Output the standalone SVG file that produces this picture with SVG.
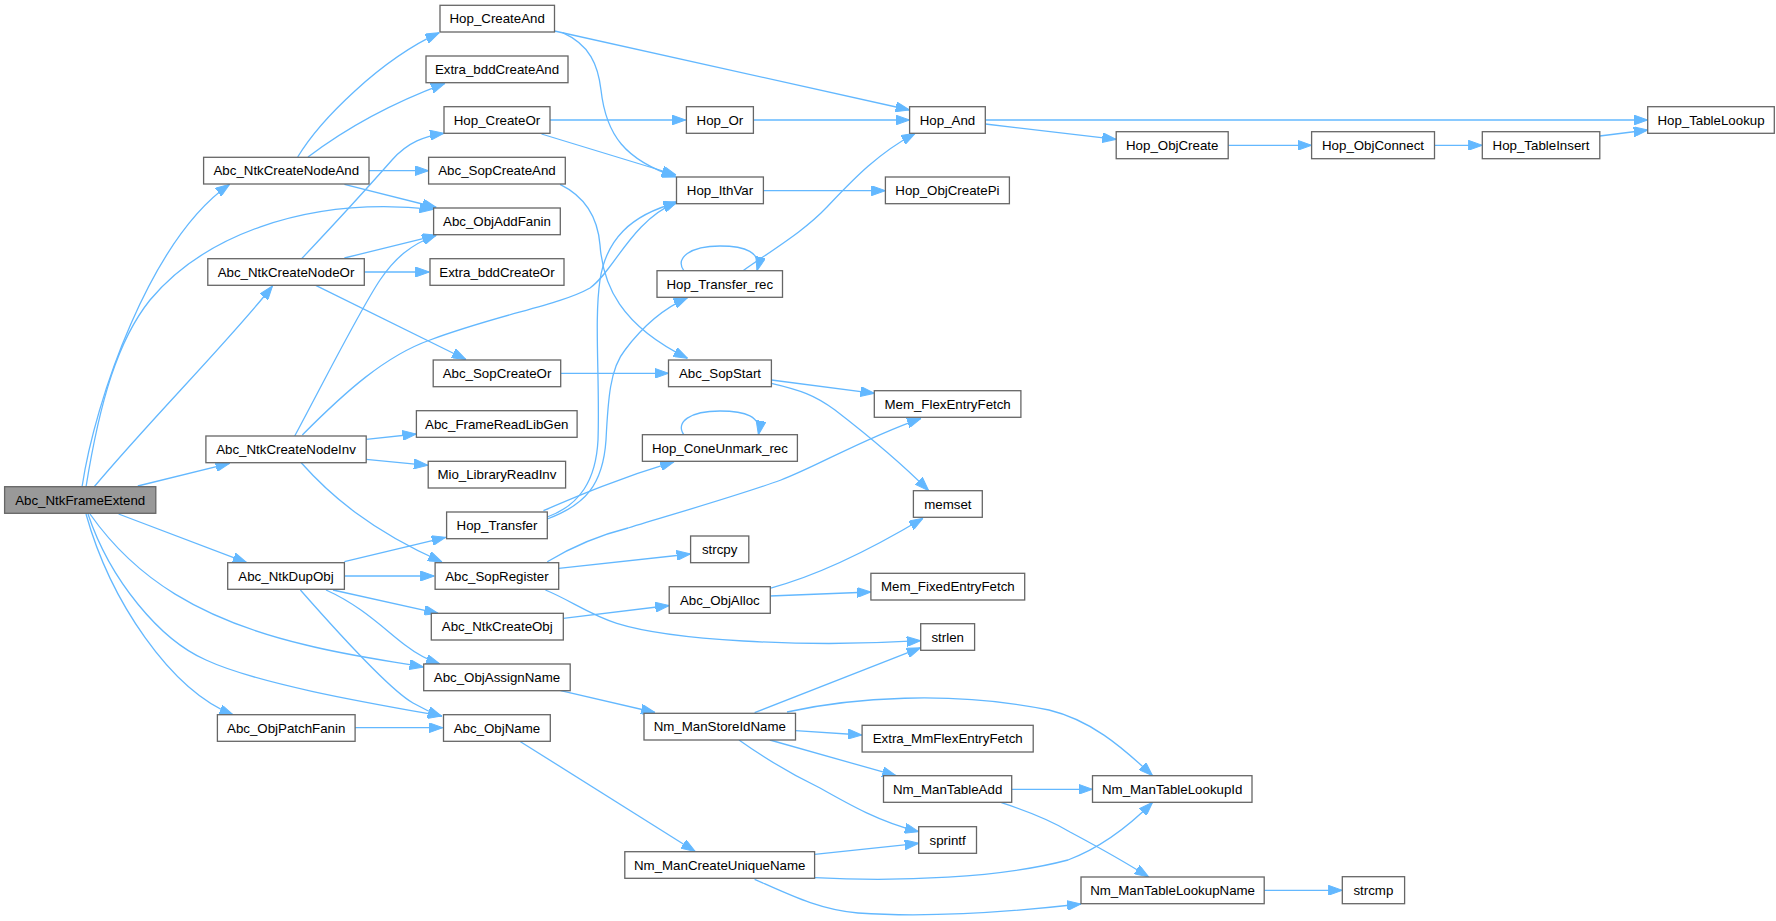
<svg xmlns="http://www.w3.org/2000/svg" width="1776" height="921" viewBox="0 0 1776 921">
<style>
.n rect{fill:#fff;stroke:#666;stroke-width:1.3}
.root rect{fill:#999}
.n text{font-family:"Liberation Sans",Arial,sans-serif;font-size:13.3px;text-anchor:middle;fill:#000}
#edges path{fill:none;stroke:#63b8ff;stroke-width:1.3;marker-end:url(#arr)}
</style>
<defs>
<marker id="arr" markerUnits="userSpaceOnUse" markerWidth="14" markerHeight="10" viewBox="0 0 14 10" refX="14" refY="5" orient="auto">
<path d="M0,0 L14,5 L0,10 z" fill="#63b8ff" stroke="#63b8ff" stroke-width="1"/>
</marker>
</defs>
<rect width="1776" height="921" fill="#fff"/>
<g id="edges">
<path d="M82,487 C95,400 150,240 229.6,184.3"/>
<path d="M86,487 C100,400 118,340 150,300 C200,240 300,195 433.6,209.3"/>
<path d="M94,487 C150,420 230,340 272.5,286"/>
<path d="M137.8,486 L229.6,463.3"/>
<path d="M118.6,514 L246.8,562.7"/>
<path d="M90,514 C135,578 200,620 306,645 C350,656 390,661 423.5,667"/>
<path d="M88,514 C110,580 160,640 206,660 C260,685 380,705 442,716"/>
<path d="M86,514 C110,600 170,690 233.4,715"/>
<path d="M297.7,157 C320,120 380,60 439.3,32.7"/>
<path d="M308,157 C350,125 400,100 445,83.3"/>
<path d="M369,170.7 L428.6,170.7"/>
<path d="M344.4,184.3 L436.3,207.5"/>
<path d="M302,258.3 C340,218 370,185 392,160 C408,142 425,136 444,133.3"/>
<path d="M344.4,258 L436.3,235.3"/>
<path d="M364.3,272 L429.4,272"/>
<path d="M315.7,285.3 L466,359.5"/>
<path d="M294.7,436 C330,370 360,310 380,280 C395,258 410,245 436.3,235"/>
<path d="M302.3,435 C345,392 385,356 430,340 C500,314 560,305 590,288 C615,270 630,222 677.3,201.7"/>
<path d="M366.2,439.3 L416.4,434"/>
<path d="M366.2,459.3 L427.9,465.3"/>
<path d="M301.2,462.7 C330,495 370,530 442,562"/>
<path d="M344.4,561.7 L445.8,537.3"/>
<path d="M344.4,576 L434.4,576"/>
<path d="M333,590 L438.2,613.3"/>
<path d="M326,590 C362,606 385,630 405,645 C418,655 428,660 440,664"/>
<path d="M300.4,590 C340,635 390,690 413,703 C425,710 435,714 442,716.5"/>
<path d="M355.1,727.7 L442.8,727.7"/>
<path d="M554.5,31 L909.6,110"/>
<path d="M562.6,32.7 C590,45 598,65 601,90 C606,135 625,160 676,177"/>
<path d="M550,120 L685.7,120"/>
<path d="M541.5,134 L676,175"/>
<path d="M753.4,120 L909.6,120"/>
<path d="M985.3,120 L1647.7,120"/>
<path d="M985.3,124 L1116.2,139.3"/>
<path d="M1228.2,145.3 L1311.6,145.3"/>
<path d="M1434.5,145.3 L1482.3,145.3"/>
<path d="M1599.8,136 L1647.7,130"/>
<path d="M763.4,190.7 L885.4,190.7"/>
<path d="M560,184.3 C588,198 598,220 600,245 C603,285 620,325 687.6,358.3"/>
<path d="M560.7,373.3 L668.5,373.3"/>
<path d="M543.4,510.7 C580,495 620,478 674.2,461.7"/>
<path d="M547.3,517 C580,505 596,480 598,440 C600,380 594,320 600,280 C606,240 630,215 677.3,202.5"/>
<path d="M547.3,519 C585,505 603,485 606,440 C608,400 610,368 625,350 C640,330 660,310 687.6,297.7"/>
<path d="M743,270.7 C780,245 805,230 827,207 C850,183 875,155 915.3,133.3"/>
<path d="M683.8,270.7 C675,258 690,246 720,246 C745,246 762,252 757,270.7"/>
<path d="M683.8,434.7 C675,422 690,411 720,411 C745,411 762,416 758.4,434.7"/>
<path d="M771.4,380 L874.3,393.3"/>
<path d="M771.4,383.3 C800,390 815,395 835,410 C870,437 900,462 928.7,490.7"/>
<path d="M547.3,561.7 C575,545 600,535 628,528 C680,512 740,495 781,480 C820,465 860,440 921,418.3"/>
<path d="M558.7,568.3 L690.6,554"/>
<path d="M545.4,590 C570,600 590,615 616.8,623.3 C670,640 800,648 920.7,640.7"/>
<path d="M563.3,618.3 L669.2,605.5"/>
<path d="M769.9,588.3 C820,575 870,550 923,518.3"/>
<path d="M769.9,596 L870.9,592"/>
<path d="M560.7,690.7 L655,712.5"/>
<path d="M520.5,741.7 L695.2,851.5"/>
<path d="M754.6,712.7 L920.7,647.7"/>
<path d="M787,712 C850,698 950,690 1049,710 C1090,720 1120,745 1152.6,775.7"/>
<path d="M795.5,730.7 L862.1,735"/>
<path d="M769.9,740 L896.2,775.7"/>
<path d="M739,740 C770,762 795,776 820,788 C850,805 880,822 918.7,831.7"/>
<path d="M1011.7,789.3 L1092.5,789.3"/>
<path d="M1001.4,802.7 C1030,812 1050,820 1070,832 C1100,848 1125,862 1148.7,877"/>
<path d="M814.6,854.3 L918.7,843.3"/>
<path d="M814.6,877.7 C900,882 1000,878 1068,860 C1100,848 1130,825 1152.6,802.3"/>
<path d="M754.6,879.3 C790,895 820,910 858,913 C930,918 1010,912 1081,904"/>
<path d="M1264.2,890.3 L1342.3,890.3"/>
</g>
<g id="n1" class="n root"><rect x="4.6" y="486.7" width="151.2" height="26.6"/><text x="80.2" y="504.7">Abc_NtkFrameExtend</text></g>
<g id="n2" class="n"><rect x="203.6" y="157.3" width="165.4" height="26.7"/><text x="286.3" y="175.4">Abc_NtkCreateNodeAnd</text></g>
<g id="n3" class="n"><rect x="207.8" y="258.7" width="156.5" height="26.6"/><text x="286" y="276.7">Abc_NtkCreateNodeOr</text></g>
<g id="n4" class="n"><rect x="205.9" y="436" width="160.3" height="26.7"/><text x="286" y="454">Abc_NtkCreateNodeInv</text></g>
<g id="n5" class="n"><rect x="227.7" y="562.7" width="116.7" height="26.6"/><text x="286" y="580.7">Abc_NtkDupObj</text></g>
<g id="n6" class="n"><rect x="217.4" y="714.7" width="137.7" height="26.6"/><text x="286.2" y="732.7">Abc_ObjPatchFanin</text></g>
<g id="n7" class="n"><rect x="440" y="5.3" width="114.5" height="26.7"/><text x="497.2" y="23.3">Hop_CreateAnd</text></g>
<g id="n8" class="n"><rect x="426" y="56" width="142" height="26.7"/><text x="497" y="74">Extra_bddCreateAnd</text></g>
<g id="n9" class="n"><rect x="444" y="106.7" width="106" height="26.6"/><text x="497" y="124.7">Hop_CreateOr</text></g>
<g id="n10" class="n"><rect x="428.6" y="157.3" width="136.7" height="26.7"/><text x="497" y="175.4">Abc_SopCreateAnd</text></g>
<g id="n11" class="n"><rect x="433.6" y="208" width="126.7" height="26.7"/><text x="497" y="226">Abc_ObjAddFanin</text></g>
<g id="n12" class="n"><rect x="430" y="258.7" width="134" height="26.6"/><text x="497" y="276.7">Extra_bddCreateOr</text></g>
<g id="n13" class="n"><rect x="433.2" y="360" width="127.5" height="26.7"/><text x="497" y="378">Abc_SopCreateOr</text></g>
<g id="n14" class="n"><rect x="416.4" y="410.7" width="160.7" height="26.6"/><text x="496.8" y="428.7">Abc_FrameReadLibGen</text></g>
<g id="n15" class="n"><rect x="428.2" y="461.3" width="137.4" height="26.7"/><text x="496.9" y="479.4">Mio_LibraryReadInv</text></g>
<g id="n16" class="n"><rect x="446.6" y="512" width="100.7" height="26.7"/><text x="497" y="530">Hop_Transfer</text></g>
<g id="n17" class="n"><rect x="435.1" y="562.7" width="123.6" height="26.6"/><text x="496.9" y="580.7">Abc_SopRegister</text></g>
<g id="n18" class="n"><rect x="431.3" y="613.3" width="132" height="26.7"/><text x="497.3" y="631.4">Abc_NtkCreateObj</text></g>
<g id="n19" class="n"><rect x="423.7" y="664" width="146.5" height="26.7"/><text x="497" y="682">Abc_ObjAssignName</text></g>
<g id="n20" class="n"><rect x="443.5" y="714.7" width="106.8" height="26.6"/><text x="496.9" y="732.7">Abc_ObjName</text></g>
<g id="n21" class="n"><rect x="686.4" y="106.7" width="67" height="26.6"/><text x="719.9" y="124.7">Hop_Or</text></g>
<g id="n22" class="n"><rect x="676.5" y="177" width="86.9" height="26.7"/><text x="720" y="195">Hop_IthVar</text></g>
<g id="n23" class="n"><rect x="657" y="270.7" width="125.5" height="26.6"/><text x="719.8" y="288.7">Hop_Transfer_rec</text></g>
<g id="n24" class="n"><rect x="668.5" y="360" width="102.9" height="26.7"/><text x="720" y="378">Abc_SopStart</text></g>
<g id="n25" class="n"><rect x="642.4" y="434.7" width="155" height="26.6"/><text x="719.9" y="452.7">Hop_ConeUnmark_rec</text></g>
<g id="n26" class="n"><rect x="690.6" y="536" width="58.2" height="26.7"/><text x="719.7" y="554">strcpy</text></g>
<g id="n27" class="n"><rect x="669.2" y="586.7" width="101.1" height="26.6"/><text x="719.8" y="604.7">Abc_ObjAlloc</text></g>
<g id="n28" class="n"><rect x="644" y="713.3" width="151.5" height="26.7"/><text x="719.8" y="731.4">Nm_ManStoreIdName</text></g>
<g id="n29" class="n"><rect x="624.8" y="851.7" width="189.8" height="26.6"/><text x="719.7" y="869.7">Nm_ManCreateUniqueName</text></g>
<g id="n30" class="n"><rect x="909.6" y="106.7" width="75.7" height="26.6"/><text x="947.5" y="124.7">Hop_And</text></g>
<g id="n31" class="n"><rect x="885.4" y="177" width="124" height="26.7"/><text x="947.4" y="195">Hop_ObjCreatePi</text></g>
<g id="n32" class="n"><rect x="874.3" y="390.7" width="146.6" height="26.6"/><text x="947.6" y="408.7">Mem_FlexEntryFetch</text></g>
<g id="n33" class="n"><rect x="913.4" y="490.7" width="68.9" height="26.6"/><text x="947.9" y="508.7">memset</text></g>
<g id="n34" class="n"><rect x="870.9" y="573.3" width="153.8" height="26.7"/><text x="947.8" y="591.4">Mem_FixedEntryFetch</text></g>
<g id="n35" class="n"><rect x="920.7" y="623.7" width="53.9" height="26.6"/><text x="947.7" y="641.7">strlen</text></g>
<g id="n36" class="n"><rect x="862.1" y="725.3" width="171.1" height="26.7"/><text x="947.7" y="743.4">Extra_MmFlexEntryFetch</text></g>
<g id="n37" class="n"><rect x="883.5" y="775.7" width="128.2" height="26.6"/><text x="947.6" y="793.7">Nm_ManTableAdd</text></g>
<g id="n38" class="n"><rect x="918.7" y="826.7" width="57.8" height="26.6"/><text x="947.6" y="844.7">sprintf</text></g>
<g id="n39" class="n"><rect x="1116.2" y="131.7" width="112" height="27"/><text x="1172.2" y="149.9">Hop_ObjCreate</text></g>
<g id="n40" class="n"><rect x="1092.5" y="775.7" width="159.5" height="26.6"/><text x="1172.2" y="793.7">Nm_ManTableLookupId</text></g>
<g id="n41" class="n"><rect x="1081" y="877" width="183.2" height="26.7"/><text x="1172.6" y="895">Nm_ManTableLookupName</text></g>
<g id="n42" class="n"><rect x="1311.6" y="131.7" width="122.9" height="27"/><text x="1373" y="149.9">Hop_ObjConnect</text></g>
<g id="n43" class="n"><rect x="1482.3" y="131.7" width="117.5" height="27"/><text x="1541" y="149.9">Hop_TableInsert</text></g>
<g id="n44" class="n"><rect x="1342.3" y="876.7" width="62.3" height="27"/><text x="1373.4" y="894.9">strcmp</text></g>
<g id="n45" class="n"><rect x="1647.7" y="106.7" width="126.6" height="26.6"/><text x="1711" y="124.7">Hop_TableLookup</text></g>
</svg>
